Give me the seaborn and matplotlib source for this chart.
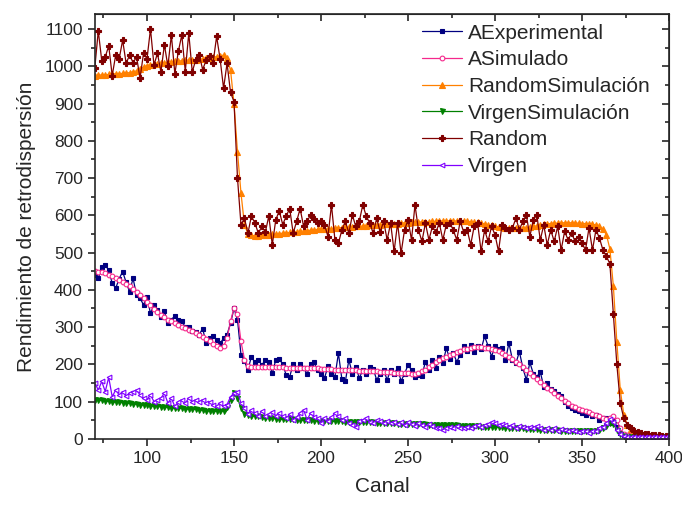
import numpy as np
import pandas as pd
import matplotlib
matplotlib.use("Agg")
import matplotlib.pyplot as plt
from matplotlib.ticker import MultipleLocator
import seaborn as sns

# canales (cada 2)
canal = np.arange(70, 401, 2)

random_exp = [
    996, 1095, 1015, 1025, 1055, 975, 1030, 1020, 1070, 1008,
    1030, 1010, 1025, 968, 1035, 1020, 1100, 1003, 1035, 985,
    1058, 1000, 1084, 980, 1040, 1084, 986, 1089, 985, 1017,
    1031, 991, 1017, 1027, 1010, 1080, 1020, 941, 1008, 930,
    905, 700, 575, 592, 552, 598, 579, 552, 570, 555,
    598, 521, 588, 612, 575, 598, 618, 552, 584, 618,
    570, 584, 601, 590, 579, 584, 575, 543, 628, 534,
    525, 561, 584, 552, 601, 570, 584, 628, 598, 579,
    552, 592, 555, 584, 534, 579, 503, 579, 498, 561,
    588, 534, 628, 561, 530, 579, 534, 570, 555, 579,
    534, 575, 579, 561, 534, 584, 555, 561, 521, 570,
    579, 503, 561, 530, 570, 548, 503, 574, 566, 561,
    566, 592, 561, 584, 601, 543, 588, 601, 534, 574,
    521, 561, 530, 570, 507, 557, 534, 552, 530, 543,
    525, 507, 566, 507, 561, 539, 507, 490, 470, 335,
    200, 95, 55, 38, 28, 22, 18, 16, 14, 12,
    11, 10, 9, 8, 8, 7,
]

random_sim = [
    975, 976, 977, 977, 978, 979, 980, 980, 981, 982,
    983, 985, 988, 993, 998, 1002, 1004, 1006, 1007, 1008,
    1010, 1011, 1012, 1013, 1014, 1015, 1016, 1017, 1018, 1018,
    1019, 1020, 1021, 1022, 1024, 1026, 1028, 1030, 1022, 990,
    900, 770, 660, 575, 550, 546, 545, 545, 546, 547,
    548, 549, 550, 551, 552, 553, 554, 555, 556, 557,
    558, 559, 560, 561, 562, 562, 563, 563, 564, 565,
    566, 567, 568, 568, 569, 570, 571, 571, 572, 573,
    574, 574, 575, 576, 576, 577, 578, 578, 579, 580,
    580, 581, 581, 582, 582, 583, 583, 584, 584, 584,
    585, 585, 585, 585, 585, 585, 584, 584, 583, 582,
    581, 579, 577, 575, 573, 571, 569, 568, 567, 566,
    565, 565, 565, 566, 567, 568, 570, 572, 574, 576,
    577, 578, 579, 579, 580, 580, 580, 580, 579, 579,
    578, 578, 577, 576, 574, 570, 563, 548, 510, 410,
    260, 130, 65, 38, 26, 20, 16, 14, 12, 11,
    10, 9, 8, 8, 7, 7,
]

a_sim = [
    450, 449, 447, 444, 441, 437, 432, 427, 422, 416,
    410, 403, 395, 386, 377, 368, 358, 349, 340, 333,
    326, 320, 315, 310, 305, 301, 297, 293, 289, 285,
    280, 274, 268, 262, 255, 248, 244, 248, 270, 315,
    352, 335, 262, 212, 196, 194, 194, 194, 193, 193,
    193, 193, 192, 192, 192, 191, 191, 191, 190, 190,
    190, 190, 189, 189, 189, 188, 188, 187, 187, 186,
    186, 186, 185, 185, 184, 184, 183, 183, 182, 182,
    181, 181, 180, 180, 179, 179, 178, 178, 177, 176,
    176, 175, 175, 177, 181, 186, 192, 199, 206, 212,
    217, 221, 225, 229, 233, 237, 240, 242, 244, 246,
    246, 246, 245, 244, 242, 239, 235, 230, 225, 219,
    213, 207, 200, 192, 184, 176, 168, 160, 152, 144,
    137, 130, 123, 116, 109, 102, 95, 89, 85, 81,
    78, 75, 71, 67, 64, 60, 56, 52, 57, 60,
    50, 28, 14, 10, 9, 8, 8, 8, 7, 7,
    7, 7, 7, 7, 7, 7,
]

a_exp = [
    440, 431, 462, 467, 452, 418, 404, 430, 449, 420,
    395, 431, 385, 377, 360, 380, 337, 360, 345, 328,
    342, 310, 320, 330, 318, 315, 300, 301, 290, 288,
    280, 296, 256, 270, 275, 266, 256, 270, 280, 310,
    350, 320, 226, 208, 185, 221, 205, 212, 198, 212,
    205, 176, 212, 215, 200, 171, 167, 200, 185, 200,
    190, 175, 200, 205, 185, 175, 163, 195, 175, 167,
    230, 160, 154, 212, 175, 193, 163, 185, 175, 193,
    188, 158, 175, 185, 158, 185, 175, 190, 155, 175,
    198, 185, 167, 172, 170, 207, 185, 212, 190, 221,
    203, 243, 215, 230, 207, 225, 248, 235, 252, 232,
    248, 240, 275, 250, 221, 248, 240, 243, 212, 257,
    212, 203, 234, 190, 158, 205, 175, 166, 180, 140,
    150, 133, 128, 120, 115, 98, 87, 83, 78, 74,
    70, 65, 70, 60, 65, 50, 55, 55, 42, 51,
    33, 15, 11, 9, 8, 8, 7, 8, 7, 7,
    6, 7, 6, 6, 6, 6,
]

virgen_sim = [
    105, 104, 103, 102, 101, 100, 99, 98, 97, 96,
    95, 94, 93, 92, 91, 90, 89, 88, 87, 86,
    85, 85, 84, 83, 82, 82, 81, 80, 80, 79,
    78, 77, 76, 76, 75, 74, 74, 76, 85, 105,
    123, 110, 82, 68, 63, 62, 61, 60, 59, 57,
    56, 55, 54, 54, 53, 53, 52, 52, 51, 51,
    50, 50, 50, 49, 49, 49, 48, 48, 48, 47,
    47, 47, 46, 46, 46, 45, 45, 45, 44, 44,
    44, 43, 43, 43, 42, 42, 42, 41, 41, 41,
    40, 40, 40, 39, 39, 39, 38, 38, 38, 37,
    37, 37, 36, 36, 36, 35, 35, 35, 34, 34,
    34, 33, 33, 33, 32, 32, 31, 31, 30, 30,
    29, 29, 28, 28, 27, 27, 26, 26, 25, 25,
    24, 24, 23, 23, 22, 22, 22, 21, 21, 21,
    20, 20, 20, 21, 22, 24, 28, 35, 42, 40,
    25, 12, 7, 5, 4, 4, 4, 4, 4, 4,
    4, 4, 4, 4, 4, 4,
]

virgen_exp = [
    150, 131, 154, 127, 165, 113, 131, 118, 127, 114,
    123, 127, 131, 118, 109, 105, 118, 100, 105, 109,
    123, 96, 109, 87, 100, 105, 96, 109, 100, 105,
    100, 105, 96, 100, 92, 87, 96, 87, 92, 113,
    123, 127, 96, 82, 68, 78, 70, 60, 75, 62,
    66, 73, 62, 69, 60, 55, 66, 51, 58, 70,
    78, 51, 69, 58, 55, 42, 56, 49, 58, 69,
    60, 51, 55, 42, 38, 33, 48, 51, 56, 45,
    42, 50, 47, 43, 48, 42, 46, 40, 45, 38,
    44, 40, 35, 43, 38, 33, 40, 35, 30, 28,
    25, 28, 33, 30, 35, 30, 28, 33, 30, 35,
    38, 32, 36, 40, 45, 42, 38, 40, 36, 33,
    38, 30, 35, 32, 28, 33, 30, 35, 30, 25,
    28, 24, 28, 22, 26, 24, 20, 25, 22, 18,
    22, 20, 17, 22, 20, 28, 32, 42, 52, 45,
    25, 12, 8, 6, 5, 5, 6, 5, 4, 5,
    4, 5, 4, 4, 4, 4,
]

series = [
    ("AExperimental", a_exp, "#000080", "s", 3.4, "#000080"),
    ("ASimulado", a_sim, "#F5288C", "o", 3.4, "white"),
    ("RandomSimulación", random_sim, "#FF8000", "^", 3.8, "#FF8000"),
    ("VirgenSimulación", virgen_sim, "#008000", "v", 3.6, "#008000"),
    ("Random", random_exp, "#800000", "P", 4.8, "#800000"),
    ("Virgen", virgen_exp, "#8000FF", "<", 3.4, "white"),
]

sns.set_style("ticks")
plt.rcParams["font.family"] = ["Liberation Sans", "DejaVu Sans"]

fig, ax = plt.subplots(figsize=(6.82, 5.05), dpi=100)
fig.subplots_adjust(left=0.139, right=0.981, bottom=0.131, top=0.972)

for name, vals, col, mk, ms, face in series:
    assert len(vals) == len(canal)
    sns.lineplot(x=canal, y=vals, ax=ax, color=col, marker=mk, markersize=ms,
                 markerfacecolor=face, markeredgecolor=col, markeredgewidth=0.8,
                 linewidth=0.9, label=name, estimator=None, sort=False)

ax.set_xlim(70, 400)
ax.set_ylim(0, 1140)
ax.xaxis.set_major_locator(MultipleLocator(50))
ax.xaxis.set_minor_locator(MultipleLocator(25))
ax.yaxis.set_major_locator(MultipleLocator(100))
ax.yaxis.set_minor_locator(MultipleLocator(50))
ax.tick_params(which="major", direction="out", length=5, width=1.2, labelsize=12.5)
ax.tick_params(which="minor", direction="out", length=3, width=1.2)

# ejes de arriba y derecha con ticks hacia dentro
top = ax.secondary_xaxis("top")
top.xaxis.set_major_locator(MultipleLocator(50))
top.xaxis.set_minor_locator(MultipleLocator(25))
top.tick_params(which="major", direction="in", length=5, width=1.2, labeltop=False)
top.tick_params(which="minor", direction="in", length=3, width=1.2)
right = ax.secondary_yaxis("right")
right.yaxis.set_major_locator(MultipleLocator(100))
right.yaxis.set_minor_locator(MultipleLocator(50))
right.tick_params(which="major", direction="in", length=5, width=1.2, labelright=False)
right.tick_params(which="minor", direction="in", length=3, width=1.2)

for sp in ax.spines.values():
    sp.set_linewidth(1.2)
    sp.set_visible(True)

ax.set_xlabel("Canal", fontsize=15, labelpad=8)
ax.set_ylabel("Rendimiento de retrodispersión", fontsize=15, labelpad=6)

ax.legend(loc="upper left", bbox_to_anchor=(0.545, 1.012), frameon=False,
          fontsize=15, handlelength=1.9, labelspacing=0.37, handletextpad=0.3,
          borderaxespad=0.3)

plt.savefig("out.png", dpi=100)
